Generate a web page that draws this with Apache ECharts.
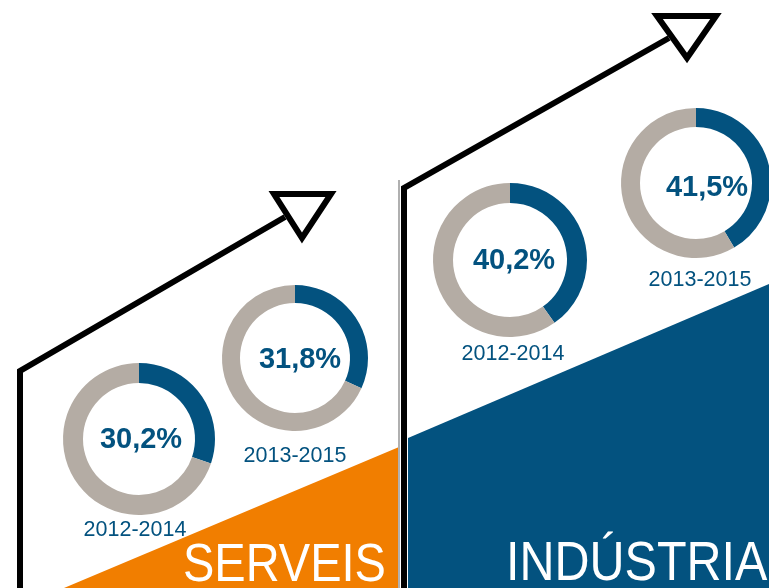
<!DOCTYPE html>
<html>
<head>
<meta charset="utf-8">
<script src="https://cdn.jsdelivr.net/npm/echarts@6/dist/echarts.min.js"></script>
<style>
  html, body { margin: 0; padding: 0; background: #ffffff; }
  #chart { width: 769px; height: 588px; }
</style>
</head>
<body>
<div id="chart"></div>
<script>
const sectors = ['SERVEIS', 'INDÚSTRIA']
const periods = ['2012-2014', '2013-2015']
const serveis = [30.2, 31.8]
const industria = [40.2, 41.5]

const blue = '#03527f'
const grey = '#b4aca4'
const orange = '#f17e00'
const font = '"Liberation Sans", Arial, sans-serif'

// donut layout: [cx, cy] per sector, per period
const centers = [
  [[139, 439], [295, 358]],
  [[510, 260], [696, 183]]
]
const radii = [[[56, 76], [55, 73]], [[57, 77], [56, 75]]]
const pctPos = [[[141, 440], [300, 360]], [[514, 261], [707, 188]]]
const periodPos = [[[135, 530], [295, 456]], [[513, 354], [700, 280]]]

const fmt = v => v.toFixed(1).replace('.', ',') + '%'

const chart = echarts.init(document.getElementById('chart'))

const series = []
const texts = []
;[serveis, industria].forEach((vals, s) => {
  vals.forEach((v, p) => {
    series.push({
      type: 'pie',
      name: sectors[s] + ' ' + periods[p],
      center: centers[s][p],
      radius: radii[s][p],
      startAngle: 90,
      silent: true,
      label: { show: false },
      labelLine: { show: false },
      data: [
        { value: v, itemStyle: { color: blue } },
        { value: 100 - v, itemStyle: { color: grey } }
      ]
    })
    texts.push({
      type: 'text',
      x: pctPos[s][p][0],
      y: pctPos[s][p][1],
      z: 10,
      style: {
        text: fmt(v),
        fill: blue,
        font: 'bold 29px ' + font,
        textAlign: 'center',
        textVerticalAlign: 'middle'
      }
    })
    texts.push({
      type: 'text',
      x: periodPos[s][p][0],
      y: periodPos[s][p][1],
      z: 10,
      style: {
        text: periods[p],
        fill: blue,
        font: '21.5px ' + font,
        textAlign: 'center',
        textVerticalAlign: 'middle'
      }
    })
  })
})

const deco = [
  // coloured wedges
  { type: 'polygon', z: 1, shape: { points: [[64, 588], [399, 447], [399, 588]] }, style: { fill: orange } },
  { type: 'polygon', z: 1, shape: { points: [[408, 438], [769, 284], [769, 588], [408, 588]] }, style: { fill: blue } },
  // thin separator
  { type: 'line', z: 2, shape: { x1: 399, y1: 180, x2: 399, y2: 588 }, style: { stroke: '#b0b0b0', lineWidth: 2 } },
  // arrows
  { type: 'polyline', z: 3, shape: { points: [[20, 590], [20, 371], [285, 217]] }, style: { stroke: '#000', lineWidth: 6, fill: null, lineJoin: 'miter' } },
  { type: 'polygon', z: 3, shape: { points: [[274, 194], [331, 194], [302, 238]] }, style: { stroke: '#000', lineWidth: 6, fill: '#fff', lineJoin: 'miter' } },
  { type: 'polyline', z: 3, shape: { points: [[404, 590], [404, 188], [669, 38]] }, style: { stroke: '#000', lineWidth: 6, fill: null, lineJoin: 'miter' } },
  { type: 'polygon', z: 3, shape: { points: [[657, 16], [716, 16], [687, 58]] }, style: { stroke: '#000', lineWidth: 6, fill: '#fff', lineJoin: 'miter' } },
  // sector names (slightly tall lettering in the original)
  { type: 'text', z: 10, x: 183, y: 593, scaleY: 1.16, style: { text: sectors[0], fill: '#fff', font: '47px ' + font, textAlign: 'left', textVerticalAlign: 'bottom' } },
  { type: 'text', z: 10, x: 506, y: 593, scaleY: 1.14, style: { text: sectors[1], fill: '#fff', font: '48.5px ' + font, textAlign: 'left', textVerticalAlign: 'bottom' } }
]

chart.setOption({
  backgroundColor: '#ffffff',
  animation: false,
  series,
  graphic: { elements: deco.concat(texts) }
})
</script>
</body>
</html>
